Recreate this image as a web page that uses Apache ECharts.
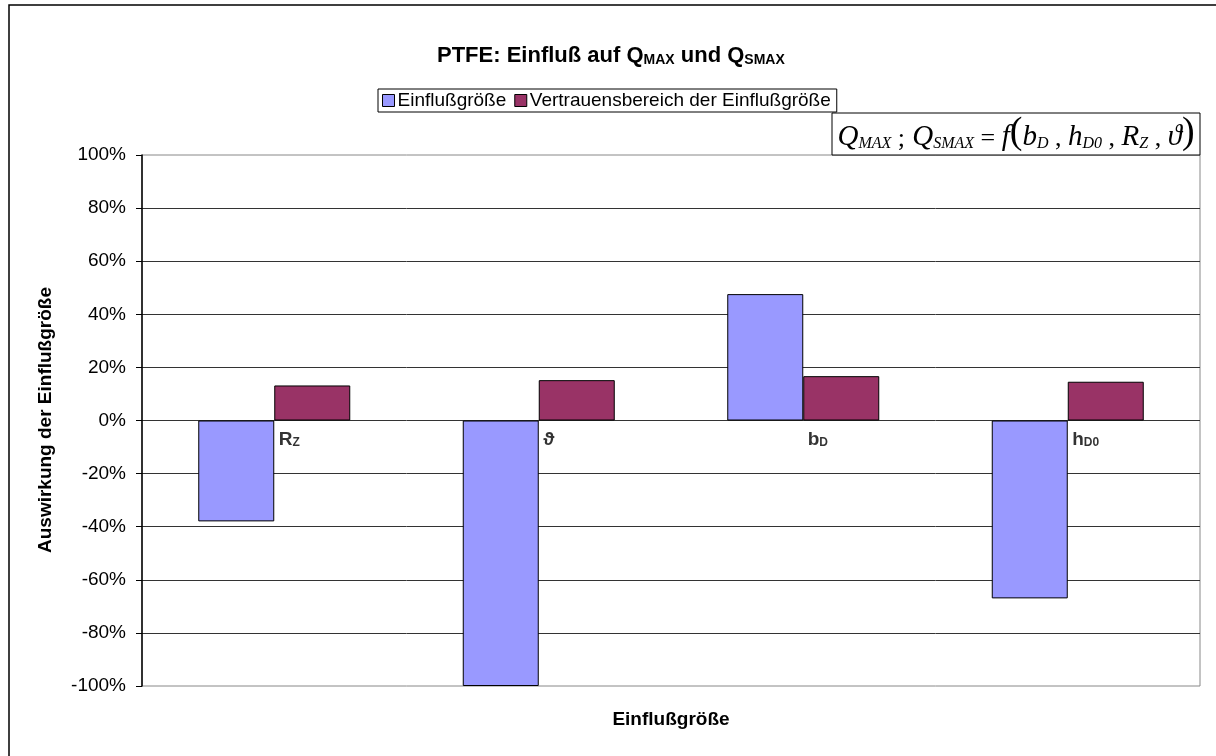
<!DOCTYPE html>
<html>
<head>
<meta charset="utf-8">
<title>PTFE: Einfluß auf QMAX und QSMAX</title>
<script src="https://cdn.jsdelivr.net/npm/echarts@6/dist/echarts.min.js"></script>
<style>
  html, body { margin: 0; padding: 0; background: #fff; }
  #chart { width: 1216px; height: 756px; }
</style>
</head>
<body>
<div id="chart"></div>
<script>
// categories: main symbol + subscript
const categoryMain = ['R', 'ϑ', 'b', 'h'];
const categorySub = ['Z', '', 'D', 'D0'];
const categories = ['RZ', 'ϑ', 'bD', 'hD0'];

// values in percent
const einflussValues = [-38, -100, 47.6, -67];
const vertrauenValues = [13.2, 15.2, 16.7, 14.6];
const labelAnchor = [0, 0, 0, 0];

const yTicks = { min: -100, max: 100, interval: 20 };
const seriesNames = ['Einflußgröße', 'Vertrauensbereich der Einflußgröße'];

const chart = echarts.init(document.getElementById('chart'));
const sansFont = '"Liberation Sans", Arial, sans-serif';
const serifFont = '"Liberation Serif", "Times New Roman", serif';

chart.setOption({
  backgroundColor: '#fff',
  animation: false,
  textStyle: { fontFamily: sansFont },
  title: {
    text: '{t|PTFE: Einfluß auf Q}{s|MAX}{t| und Q}{s|SMAX}',
    left: 432,
    top: 36,
    textStyle: {
      rich: {
        t: { fontFamily: sansFont, fontSize: 22, fontWeight: 'bold', color: '#000', lineHeight: 26, verticalAlign: 'bottom' },
        s: { fontFamily: sansFont, fontSize: 14, fontWeight: 'bold', color: '#000', lineHeight: 16, verticalAlign: 'bottom' },
      },
    },
  },
  legend: {
    data: seriesNames,
    left: 378,
    top: 89,
    orient: 'horizontal',
    icon: 'rect',
    itemWidth: 12,
    itemHeight: 12,
    itemGap: 8,
    padding: [2, 6, 2, 4],
    borderColor: '#000',
    borderWidth: 1,
    backgroundColor: '#fff',
    textStyle: { fontFamily: sansFont, fontSize: 19, color: '#000', padding: [0, 0, 0, -2] },
    itemStyle: { borderColor: '#000', borderWidth: 1 },
  },
  grid: {
    left: 142,
    right: 16,
    top: 155,
    bottom: 70,
    show: true,
    borderColor: '#888',
    borderWidth: 1,
    backgroundColor: '#fff',
  },
  xAxis: {
    type: 'category',
    data: categories,
    axisLine: { show: false },
    axisTick: { show: false },
    axisLabel: { show: false },
    splitLine: { show: false },
  },
  yAxis: {
    type: 'value',
    min: yTicks.min,
    max: yTicks.max,
    interval: yTicks.interval,
    axisLine: { show: true, lineStyle: { color: '#000', width: 1.5 } },
    axisTick: { show: true, inside: false, length: 6, lineStyle: { color: '#000' } },
    axisLabel: { formatter: '{value}%', fontFamily: sansFont, fontSize: 19, color: '#000', margin: 16 },
    splitLine: { show: true, showMinLine: false, showMaxLine: false, lineStyle: { color: '#333', width: 1 } },
  },
  graphic: [
    {
      type: 'rect',
      shape: { x: 9, y: 5, width: 1230, height: 780 },
      style: { fill: 'none', stroke: '#000', lineWidth: 1.5 },
      silent: true,
      z: 100,
    },
    {
      type: 'text',
      x: 46,
      y: 420,
      rotation: Math.PI / 2,
      style: {
        text: 'Auswirkung der Einflußgröße',
        fontFamily: sansFont,
        fontSize: 19,
        fontWeight: 'bold',
        fill: '#000',
        align: 'center',
        verticalAlign: 'middle',
      },
    },
    {
      type: 'text',
      x: 671,
      y: 720,
      style: {
        text: 'Einflußgröße',
        fontFamily: sansFont,
        fontSize: 19,
        fontWeight: 'bold',
        fill: '#000',
        align: 'center',
        verticalAlign: 'middle',
      },
    },
    {
      type: 'rect',
      shape: { x: 832, y: 113, width: 368, height: 42 },
      style: { fill: '#fff', stroke: '#000', lineWidth: 1 },
      z: 50,
    },
    {
      type: 'text',
      x: 1016,
      y: 133,
      z: 51,
      style: {
        text: '{v|Q}{s|MAX}{n| ;}{v| Q}{s|SMAX}{n| = }{v|f}{p|(}{v|b}{s|D}{n| , }{v|h}{s|D0}{n| , }{v|R}{s|Z}{n| , }{v|ϑ}{p|)}',
        align: 'center',
        verticalAlign: 'middle',
        rich: {
          v: { fontFamily: serifFont, fontStyle: 'italic', fontSize: 29, fill: '#000', lineHeight: 32, verticalAlign: 'bottom' },
          s: { fontFamily: serifFont, fontStyle: 'italic', fontSize: 16, fill: '#000', lineHeight: 18, verticalAlign: 'bottom' },
          n: { fontFamily: serifFont, fontSize: 26, fill: '#000', lineHeight: 32, verticalAlign: 'bottom' },
          p: { fontFamily: serifFont, fontSize: 38, fill: '#000', lineHeight: 38, verticalAlign: 'bottom' },
        },
      },
    },
  ],
  series: [
    {
      name: seriesNames[0],
      type: 'bar',
      data: einflussValues,
      barWidth: 76,
      barGap: '0%',
      itemStyle: { color: '#9999FF', borderColor: '#000', borderWidth: 1 },
    },
    {
      name: seriesNames[1],
      type: 'bar',
      data: vertrauenValues,
      barWidth: 76,
      barGap: '0%',
      itemStyle: { color: '#993366', borderColor: '#000', borderWidth: 1 },
    },
    {
      // category names sit on the zero line, like the original
      name: 'labels',
      type: 'scatter',
      data: labelAnchor,
      symbolSize: 1,
      itemStyle: { color: 'rgba(0,0,0,0)' },
      silent: true,
      z: 10,
      label: {
        show: true,
        position: [5, 7],
        formatter: (p) => `{m|${categoryMain[p.dataIndex]}}{s|${categorySub[p.dataIndex]}}`,
        rich: {
          m: { fontFamily: sansFont, fontSize: 19, fontWeight: 'bold', color: '#000', lineHeight: 22, verticalAlign: 'bottom' },
          s: { fontFamily: sansFont, fontSize: 12, fontWeight: 'bold', color: '#000', lineHeight: 14, verticalAlign: 'bottom' },
        },
      },
    },
  ],
});
</script>
</body>
</html>
